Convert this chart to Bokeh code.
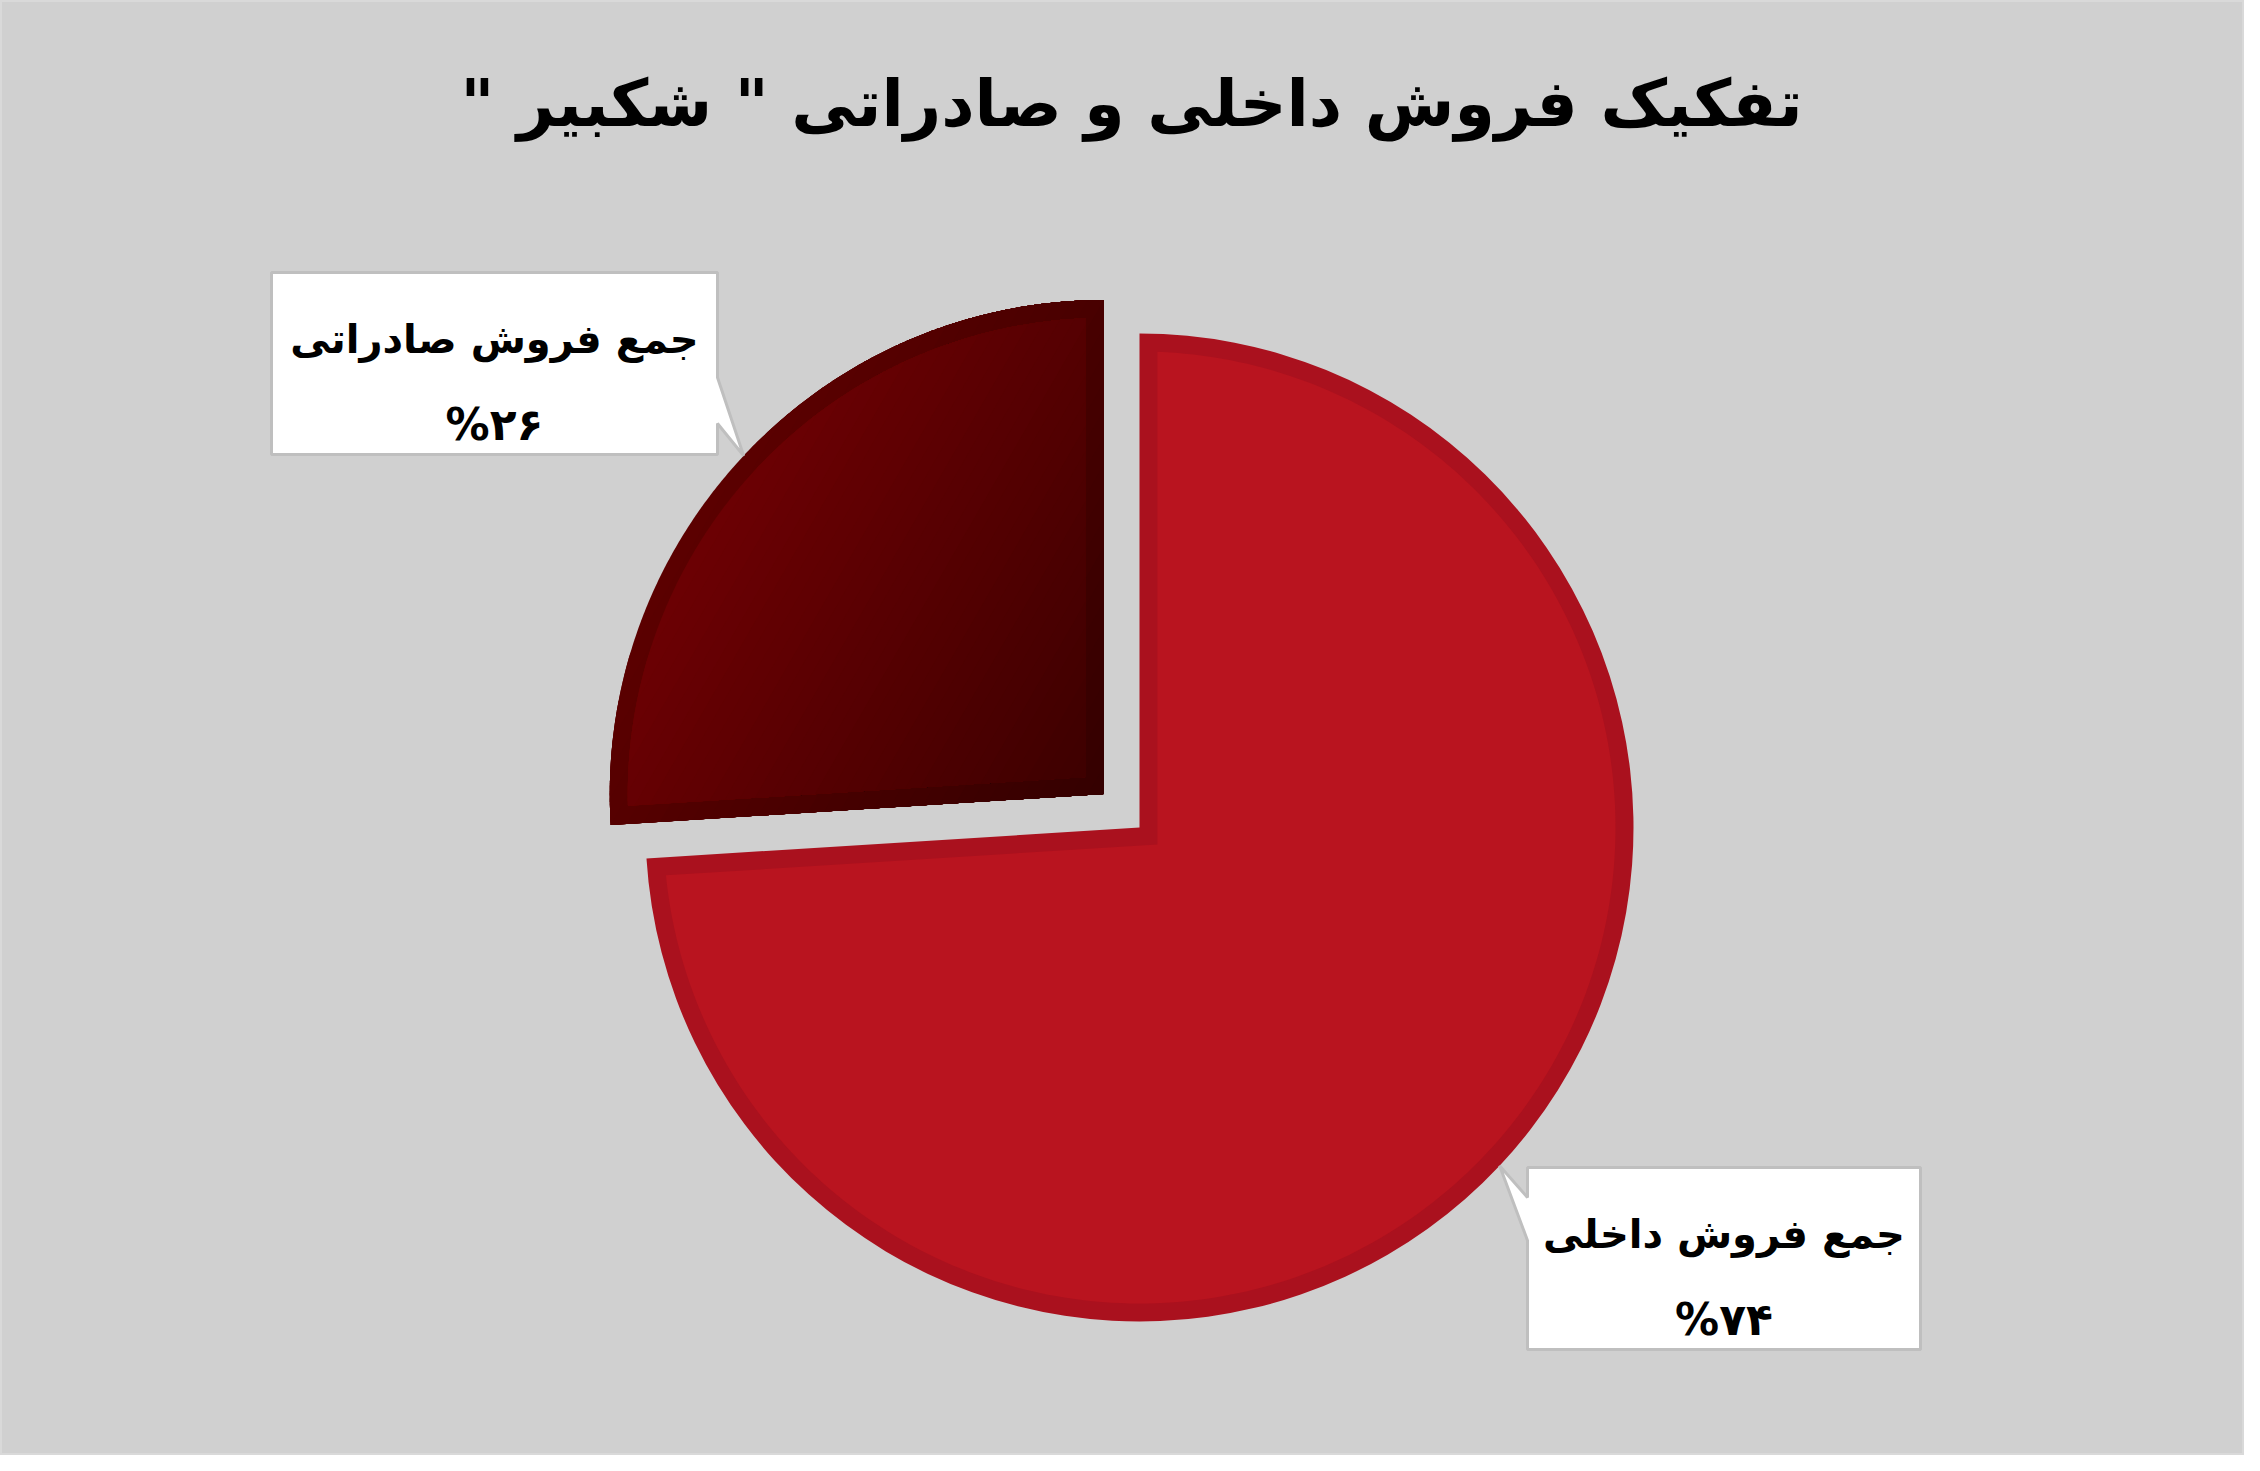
import math

from bokeh.plotting import figure
from bokeh.models import Range1d
from bokeh.core.properties import value
from bokeh.embed import file_html
from bokeh.resources import INLINE

# data
categories = ["جمع فروش داخلی", "جمع فروش صادراتی"]
shares = [74, 26]
pct_labels = ["%۷۴", "%۲۶"]
title_text = 'تفکیک فروش داخلی و صادراتی " شکبیر "' + "\u200f"

# layout (page pixels, y up)
W, H = 2244, 1455
CX, CY, R = 1139, 628, 494
BORDER = 18
EXPLODE = [0, 49]
FONT = value("DejaVu Sans")

# callout boxes: x0, x1, y0, y1, side of the pointer, pointer base (pa, pb)
boxes = [
    dict(x0=1527, x1=1920, y0=106, y1=288, side="left", pa=215, pb=258),
    dict(x0=271, x1=717, y0=1001, y1=1183, side="right", pa=1032, pb=1078),
]


def arc(cx, cy, r, a0, a1, n=240):
    xs, ys = [], []
    for i in range(n + 1):
        t = a0 + (a1 - a0) * i / n
        xs.append(cx + r * math.cos(t))
        ys.append(cy + r * math.sin(t))
    return xs, ys


def outer_poly(cx, cy, r, a0, a1):
    xs, ys = arc(cx, cy, r, a0, a1)
    return [cx] + xs, [cy] + ys


def inner_poly(cx, cy, r, a0, a1, b):
    # slice shrunk by a border of width b on every side
    half = (a1 - a0) / 2
    bis = a0 + half
    d = b / math.sin(half)
    px, py = cx + d * math.cos(bis), cy + d * math.sin(bis)
    ri = r - b
    t = math.sqrt(ri * ri - b * b)
    dl = math.atan2(b, t)
    xs, ys = arc(cx, cy, ri, a0 + dl, a1 - dl)
    return [px] + xs, [py] + ys


def clip(xs, ys, gx, gy, s0):
    out_x, out_y = [], []
    n = len(xs)
    for i in range(n):
        x1, y1 = xs[i], ys[i]
        x2, y2 = xs[(i + 1) % n], ys[(i + 1) % n]
        s1 = x1 * gx + y1 * gy - s0
        s2 = x2 * gx + y2 * gy - s0
        if s1 >= 0:
            out_x.append(x1)
            out_y.append(y1)
        if (s1 >= 0) != (s2 >= 0):
            k = s1 / (s1 - s2)
            out_x.append(x1 + k * (x2 - x1))
            out_y.append(y1 + k * (y2 - y1))
    return out_x, out_y


def gradient_bands(xs, ys, c_light, c_dark, ang=-30, n=36):
    gx, gy = math.cos(math.radians(ang)), math.sin(math.radians(ang))
    s = [x * gx + y * gy for x, y in zip(xs, ys)]
    smin, smax = min(s), max(s)
    bx, by, cols = [], [], []
    for k in range(n):
        s0 = smin + (smax - smin) * k / n
        cx_, cy_ = clip(xs, ys, gx, gy, s0 - (1 if k == 0 else 0))
        if len(cx_) < 3:
            continue
        f = (k + 0.5) / n
        rgb = [round(a + (b - a) * f) for a, b in zip(c_light, c_dark)]
        bx.append(cx_)
        by.append(cy_)
        cols.append("#%02x%02x%02x" % tuple(rgb))
    return bx, by, cols


p = figure(width=W, height=H, x_range=Range1d(0, W), y_range=Range1d(0, H),
           output_backend="svg", toolbar_location=None,
           x_axis_type=None, y_axis_type=None, min_border=0,
           background_fill_color="#d0d0d0", border_fill_color="#d0d0d0",
           outline_line_color="#d9d9d9", outline_line_width=3)
p.grid.visible = False

# slice angles, clockwise from 12 o'clock
total = float(sum(shares))
start = math.pi / 2
slices = []
for i, v in enumerate(shares):
    sweep = v / total * 2 * math.pi
    a1 = start
    a0 = start - sweep
    bis = (a0 + a1) / 2
    cx = CX + EXPLODE[i] * math.cos(bis)
    cy = CY + EXPLODE[i] * math.sin(bis)
    slices.append((cx, cy, a0, a1, bis))
    start = a0

# domestic sales slice
cx, cy, a0, a1, bis = slices[0]
p.wedge(x=[cx], y=[cy], radius=R, start_angle=[a0], end_angle=[a1],
        fill_color="#aa111e", line_color=None)
ix, iy = inner_poly(cx, cy, R, a0, a1, BORDER)
p.patch(ix, iy, fill_color="#b9141f", line_color=None)

# export sales slice, with gradient
cx, cy, a0, a1, bis = slices[1]
ox, oy = outer_poly(cx, cy, R, a0, a1)
bx, by, cols = gradient_bands(ox, oy, (92, 0, 0), (52, 0, 0))
p.patches(bx, by, fill_color=cols, line_color=None)
ix, iy = inner_poly(cx, cy, R, a0, a1, BORDER)
bx, by, cols = gradient_bands(ix, iy, (108, 0, 3), (62, 0, 0))
p.patches(bx, by, fill_color=cols, line_color=None)

# callouts
for i, b in enumerate(boxes):
    cx, cy, a0, a1, bis = slices[i]
    tx, ty = cx + R * math.cos(bis), cy + R * math.sin(bis)
    if b["side"] == "left":
        xs = [b["x0"], b["x1"], b["x1"], b["x0"], b["x0"], tx, b["x0"]]
        ys = [b["y1"], b["y1"], b["y0"], b["y0"], b["pa"], ty, b["pb"]]
    else:
        xs = [b["x0"], b["x1"], b["x1"], tx, b["x1"], b["x1"], b["x0"]]
        ys = [b["y1"], b["y1"], b["pb"], ty, b["pa"], b["y0"], b["y0"]]
    p.patch(xs, ys, fill_color="white", line_color="#bfbfbf", line_width=3)
    mx = (b["x0"] + b["x1"]) / 2
    p.text(x=[mx], y=[b["y1"] - 66], text=[categories[i]],
           text_font=FONT, text_font_style="bold", text_font_size="40px",
           text_color="black", text_align="center", text_baseline="alphabetic")
    p.text(x=[mx], y=[b["y1"] - 152], text=[pct_labels[i]],
           text_font=FONT, text_font_style="bold", text_font_size="44px",
           text_color="black", text_align="center", text_baseline="alphabetic")

p.text(x=[1131], y=[1352], text=[title_text], text_font=FONT,
       text_font_style="bold", text_font_size="65px", text_color="black",
       text_align="center", text_baseline="alphabetic")

open("out.html", "w", encoding="utf-8").write(file_html(p, INLINE, title="chart"))
